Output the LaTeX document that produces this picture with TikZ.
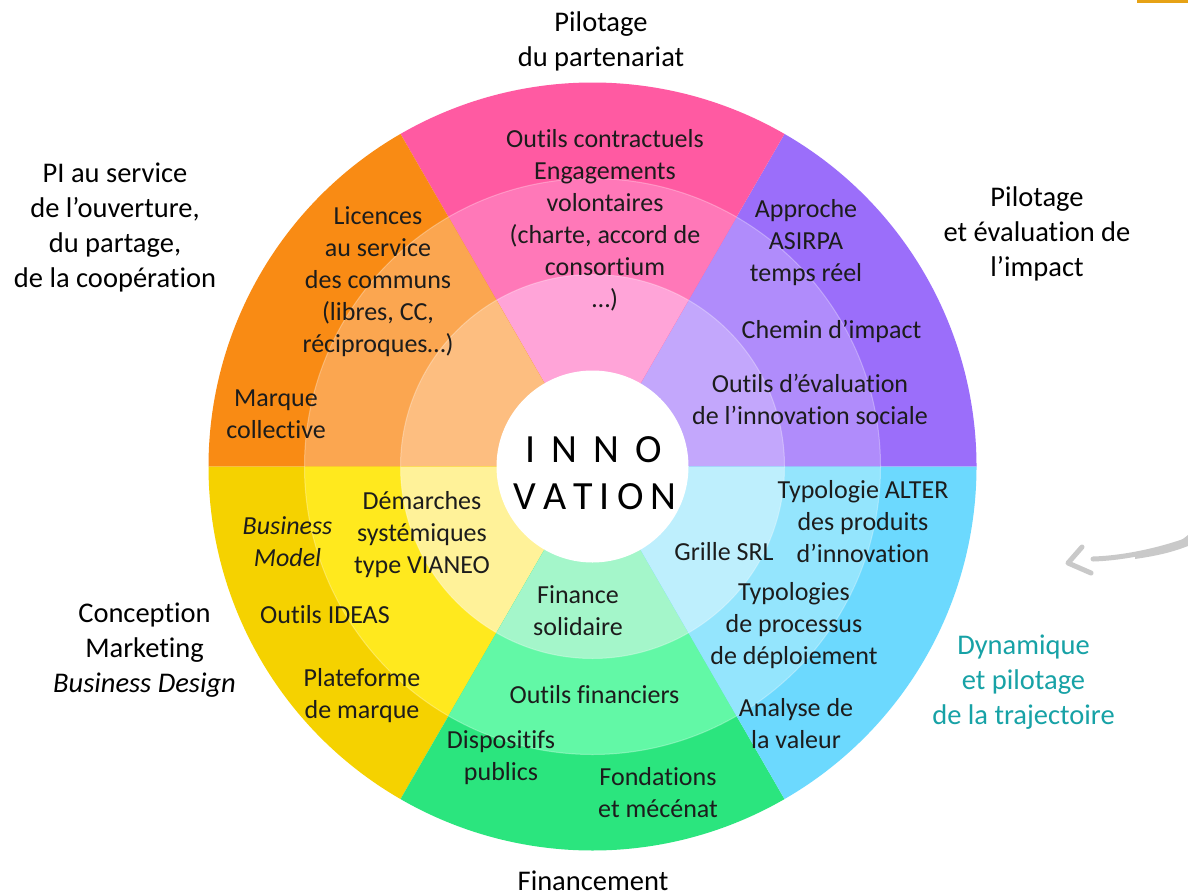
\documentclass[tikz,border=0pt]{standalone}
\usepackage{fontspec}
\setmainfont{Carlito}[Ligatures=NoCommon]
\definecolor{txt}{HTML}{1C1C1C}
\definecolor{teal}{HTML}{17A2A6}
\definecolor{agrey}{HTML}{C9C9C9}
\definecolor{gold}{HTML}{E6A215}
\definecolor{orA}{HTML}{F98B14}
\definecolor{orB}{HTML}{FBA650}
\definecolor{orC}{HTML}{FDBE80}
\definecolor{pinkA}{HTML}{FF5AA2}
\definecolor{pinkB}{HTML}{FF78B8}
\definecolor{pinkC}{HTML}{FFA4D8}
\definecolor{purA}{HTML}{9B6EFA}
\definecolor{purB}{HTML}{B08CFB}
\definecolor{purC}{HTML}{C3A7FC}
\definecolor{yeA}{HTML}{F5D200}
\definecolor{yeB}{HTML}{FFE91E}
\definecolor{yeC}{HTML}{FFF299}
\definecolor{grA}{HTML}{2BE57E}
\definecolor{grB}{HTML}{62F8A6}
\definecolor{grC}{HTML}{A4F6CA}
\definecolor{blA}{HTML}{6CD9FE}
\definecolor{blB}{HTML}{94E5FD}
\definecolor{blC}{HTML}{BEEFFD}
\begin{document}
\begin{tikzpicture}[x=1pt,y=-1pt,
  intext/.style={font=\fontsize{26}{32}\selectfont, text=txt, align=center, inner sep=0pt},
  outtext/.style={font=\fontsize{28.5}{35}\selectfont, text=black, align=center, inner sep=0pt},
  coretext/.style={font=\fontsize{40}{46}\selectfont, text=black, inner sep=0pt}]
\useasboundingbox (0,0) rectangle (1188,894);
\fill[white] (0,0) rectangle (1188,894);
\coordinate (C) at (592.5,466.5);
\foreach \a/\ca/\cb/\cc in {300/purA/purB/purC, 240/pinkA/pinkB/pinkC, 180/orA/orB/orC, 120/yeA/yeB/yeC, 60/grA/grB/grC, 0/blA/blB/blC} {
  \fill[\ca] (C) -- ++(\a:384) arc[start angle=\a, delta angle=60, radius=384] -- cycle;
  \fill[\cb] (C) -- ++(\a:288) arc[start angle=\a, delta angle=60, radius=288] -- cycle;
  \fill[\cc] (C) -- ++(\a:192) arc[start angle=\a, delta angle=60, radius=192] -- cycle;
}
\draw[white, opacity=0.3, line width=1pt] (C) circle[radius=192] (C) circle[radius=288];
\fill[white] (C) circle[radius=96];

% centre
\node[coretext] (inno) at (594,450) {I\hspace{16pt}N\hspace{16pt}N\hspace{16pt}O};
\node[coretext] (vation) at (595,497) {V\hspace{7pt}A\hspace{7pt}T\hspace{7pt}I\hspace{7pt}O\hspace{7pt}N};

% pink
\node[intext] (pk1) at (605,220) {Outils contractuels\\Engagements\\volontaires\\(charte, accord de\\consortium\\…)};
% orange
\node[intext] (or1) at (378,281.5) {Licences\\au service\\des communs\\(libres, CC,\\réciproques…)};
\node[intext] (or2) at (276,414) {Marque\\collective};
% purple
\node[intext] (pu1) at (806,242.5) {Approche\\ASIRPA\\temps réel};
\node[intext] (pu2) at (831.5,331) {Chemin d’impact};
\node[intext] (pu3) at (810,399) {Outils d’évaluation\\de l’innovation sociale};
% yellow
\node[intext, font=\fontsize{26}{32}\selectfont\itshape] (ye1) at (287.5,542) {Business\\Model};
\node[intext] (ye2) at (422,534.5) {Démarches\\systémiques\\type VIANEO};
\node[intext] (ye3) at (325,615) {Outils IDEAS};
\node[intext] (ye4) at (362,696) {Plateforme\\de marque};
% green
\node[intext] (gr1) at (578,611) {Finance\\solidaire};
\node[intext] (gr2) at (594.5,695) {Outils financiers};
\node[intext] (gr3) at (501,758) {Dispositifs\\publics};
\node[intext] (gr4) at (658,792.5) {Fondations\\et mécénat};
% blue
\node[intext] (bl1) at (863,521.5) {Typologie ALTER\\des produits\\d’innovation};
\node[intext] (bl2) at (724,552) {Grille SRL};
\node[intext] (bl3) at (794,626) {Typologies\\de processus\\de déploiement};
\node[intext] (bl4) at (796,723.5) {Analyse de\\la valeur};

% outer labels
\node[outtext] (lab1) at (601,41) {Pilotage\\du partenariat};
\node[outtext] (lab2) at (115,227) {PI au service\\de l’ouverture,\\du partage,\\de la coopération};
\node[outtext] (lab3) at (1037,234) {Pilotage\\et évaluation de\\l’impact};
\node[outtext] (lab4) at (144.5,650) {Conception\\Marketing\\\textit{Business Design}};
\node[outtext] (lab5) at (593,881) {Financement};
\node[outtext, text=teal] (lab6) at (1023.5,682.5) {Dynamique\\et pilotage\\de la trajectoire};

% grey arrow
\coordinate (arS) at (1188,540);
\coordinate (arE) at (1093,559);
\draw[agrey, line width=5pt, line cap=round] (arE) .. controls (1125,558) and (1160,550) .. (arS);
\fill[agrey] (1135,555) .. controls (1160,551) and (1175,546) .. (1188,535) -- (1188,546) .. controls (1170,553) and (1155,556) .. (1135,559) -- cycle;
\coordinate (chT) at (1082,547);
\coordinate (chM) at (1068,563);
\coordinate (chB) at (1091,573);
\draw[agrey, line width=5pt, line cap=round, line join=round] (chT) -- (chM) -- (chB);

% top-right rule
\fill[gold] (1137,0) rectangle (1188,2.5);
\end{tikzpicture}
\end{document}
